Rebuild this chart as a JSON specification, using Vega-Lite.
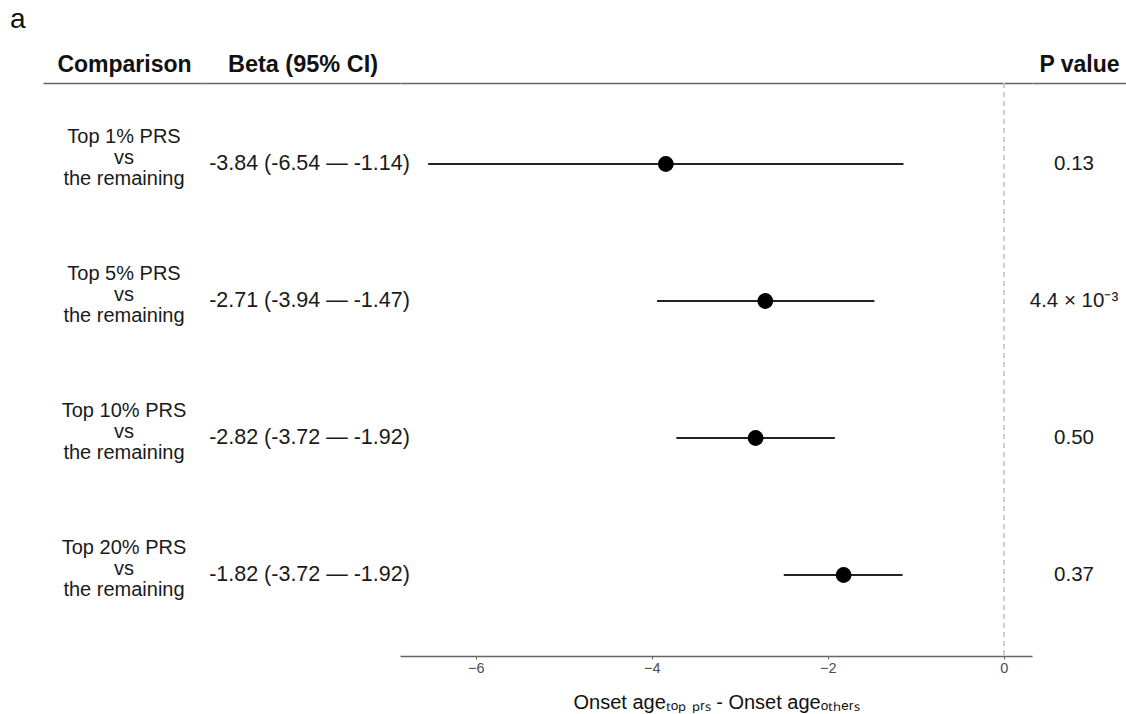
{
  "$schema": "https://vega.github.io/schema/vega-lite/v6.json",
  "padding": {"left": 10, "top": 6, "right": 0, "bottom": 0},
  "title": {"text": "a", "anchor": "start", "fontSize": 28, "fontWeight": "normal", "font": "Liberation Sans", "color": "#111", "dx": -33, "offset": 18},
  "data": {"values": [
    {"group": "Top 1%", "comparison": "Top 1% PRS\nvs\nthe remaining", "beta": -3.84, "lo": -6.54, "hi": -1.14, "ci": "-3.84 (-6.54 — -1.14)", "p": "0.13"},
    {"group": "Top 5%", "comparison": "Top 5% PRS\nvs\nthe remaining", "beta": -2.71, "lo": -3.94, "hi": -1.47, "ci": "-2.71 (-3.94 — -1.47)", "p": "4.4 × 10⁻³"},
    {"group": "Top 10%", "comparison": "Top 10% PRS\nvs\nthe remaining", "beta": -2.82, "lo": -3.72, "hi": -1.92, "ci": "-2.82 (-3.72 — -1.92)", "p": "0.50"},
    {"group": "Top 20%", "comparison": "Top 20% PRS\nvs\nthe remaining", "beta": -1.82, "lo": -2.50, "hi": -1.15, "ci": "-1.82 (-3.72 — -1.92)", "p": "0.37"}
  ]},
  "spacing": 0,
  "bounds": "flush",
  "resolve": {"scale": {"x": "independent", "y": "independent"}, "axis": {"x": "independent", "y": "independent"}},
  "hconcat": [
    {
      "width": 162, "height": 573,
      "mark": {"type": "text", "fontSize": 20, "lineBreak": "\n", "lineHeight": 21, "color": "#1a1a1a", "dy": -27},
      "encoding": {
        "x": {"datum": "Comparison", "type": "nominal", "scale": {"type": "point"},
              "axis": {"orient": "top", "title": "Comparison", "labels": false, "ticks": false, "domainColor": "#666", "domainWidth": 1.5, "titleFontSize": 23, "titleFontWeight": "bold", "titleColor": "#111", "titlePadding": 7}},
        "y": {"field": "group", "type": "nominal", "scale": {"type": "point", "padding": 0.591, "domain": ["Top 1%", "Top 5%", "Top 10%", "Top 20%"]}, "axis": null},
        "text": {"field": "comparison"}
      }
    },
    {
      "width": 195, "height": 573,
      "mark": {"type": "text", "fontSize": 21.5, "color": "#1a1a1a", "dx": 7},
      "encoding": {
        "x": {"datum": "Beta (95% CI)", "type": "nominal", "scale": {"type": "point"},
              "axis": {"orient": "top", "title": "Beta (95% CI)", "labels": false, "ticks": false, "domainColor": "#666", "domainWidth": 1.5, "titleFontSize": 23.5, "titleFontWeight": "bold", "titleColor": "#111", "titlePadding": 7}},
        "y": {"field": "group", "type": "nominal", "scale": {"type": "point", "padding": 0.591, "domain": ["Top 1%", "Top 5%", "Top 10%", "Top 20%"]}, "axis": null},
        "text": {"field": "ci"}
      }
    },
    {
      "width": 632, "height": 573,
      "resolve": {"axis": {"x": "independent"}},
      "layer": [
        {
          "mark": {"type": "rule", "color": "#c8c8c8", "strokeDash": [5, 4], "strokeWidth": 1},
          "encoding": {
            "x": {"datum": 0, "type": "quantitative", "scale": {"domain": [-6.86, 0.32], "nice": false, "zero": false},
                  "axis": {"orient": "top", "title": null, "labels": false, "ticks": false, "grid": false, "domainColor": "#666", "domainWidth": 1.5}}
          }
        },
        {
          "mark": {"type": "rule", "color": "#222", "strokeWidth": 2},
          "encoding": {
            "x": {"field": "lo", "type": "quantitative",
                  "axis": {"orient": "bottom", "values": [-6, -4, -2, 0], "format": "d", "grid": false, "domainColor": "#666", "domainWidth": 1.5, "tickColor": "#666", "tickSize": 3, "labelFontSize": 14.5, "labelColor": "#4d4d4d", "labelPadding": 2, "title": "Onset ageₜₒₚ ₚᵣₛ - Onset ageₒₜₕₑᵣₛ", "titleFontSize": 20, "titleFontWeight": "normal", "titleColor": "#111", "titlePadding": 18}},
            "x2": {"field": "hi"},
            "y": {"field": "group", "type": "nominal", "scale": {"type": "point", "padding": 0.591, "domain": ["Top 1%", "Top 5%", "Top 10%", "Top 20%"]}, "axis": null}
          }
        },
        {
          "mark": {"type": "point", "filled": true, "color": "#000", "size": 250, "opacity": 1},
          "encoding": {
            "x": {"field": "beta", "type": "quantitative", "axis": null},
            "y": {"field": "group", "type": "nominal", "axis": null}
          }
        }
      ]
    },
    {
      "width": 94, "height": 573,
      "mark": {"type": "text", "fontSize": 20.5, "color": "#1a1a1a", "dx": -5},
      "encoding": {
        "x": {"datum": "P value", "type": "nominal", "scale": {"type": "point"},
              "axis": {"orient": "top", "title": "P value", "labels": false, "ticks": false, "domainColor": "#666", "domainWidth": 1.5, "titleFontSize": 23, "titleFontWeight": "bold", "titleColor": "#111", "titlePadding": 7}},
        "y": {"field": "group", "type": "nominal", "scale": {"type": "point", "padding": 0.591, "domain": ["Top 1%", "Top 5%", "Top 10%", "Top 20%"]}, "axis": null},
        "text": {"field": "p"}
      }
    }
  ],
  "config": {
    "font": "Liberation Sans",
    "view": {"stroke": null},
    "axis": {"labelFont": "Liberation Sans", "titleFont": "Liberation Sans"}
  }
}
